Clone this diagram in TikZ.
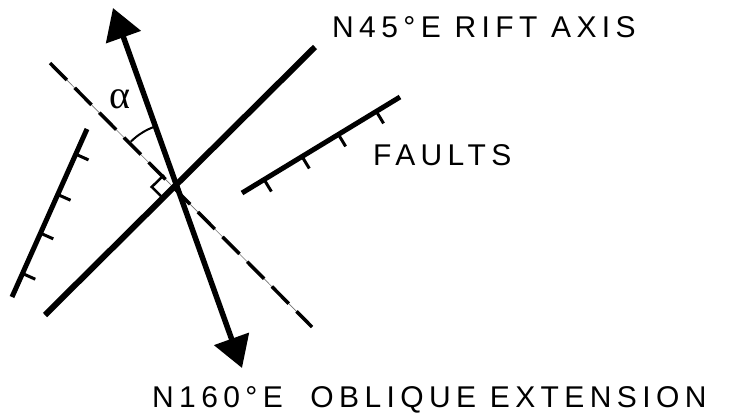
\documentclass[tikz,border=0pt]{standalone}
\usepackage{fontspec}
\setmainfont{Liberation Sans}
\newfontfamily\lblfont[LetterSpace=18]{Liberation Sans}
\newfontfamily\greekfont{Liberation Serif}
\usetikzlibrary{arrows.meta,calc}

\begin{document}
\begin{tikzpicture}[x=1pt,y=-1pt,
    lbl/.style={inner sep=0pt, anchor=base west,
      font=\lblfont\fontsize{30}{36}\selectfont},
    riftline/.style={line width=6pt},
    extarrow/.style={line width=5.5pt,
      {Triangle[length=31pt,width=36pt]}-{Triangle[length=31pt,width=36pt]}},
    faultline/.style={line width=5pt},
    faulttick/.style={line width=3pt}
  ]
  \useasboundingbox (0,0) rectangle (730,416);

  % main directions
  \coordinate (C) at (176,187);
  \coordinate (riftA) at (45,315);
  \coordinate (riftB) at (315,47);
  \coordinate (perpA) at (50,63);
  \coordinate (perpB) at (312,327);
  \coordinate (extTop) at (113,8);
  \coordinate (extBot) at (242,368);

  % faults
  \coordinate (lfA) at (12,297);
  \coordinate (lfB) at (87,129);
  \coordinate (rfA) at (242,193);
  \coordinate (rfB) at (400,97);

  % perpendicular to the rift
  \draw[line width=0.6pt, black!55] (perpA) -- (perpB);
  \draw[line width=3.5pt, dash pattern=on 24pt off 11pt] (perpA) -- (perpB);

  \draw[riftline] (riftA) -- (riftB);
  \draw[extarrow] (extBot) -- (extTop);

  % right angle and alpha
  \coordinate (ra1) at ($(C)!17pt!(perpA)$);
  \coordinate (ra2) at ($(C)!17pt!(riftA)$);
  \draw[line width=2.5pt] (ra1) -- ($(ra1)+(ra2)-(C)$) -- (ra2);
  \draw[line width=2pt] ($(C)+(225:64)$) arc[start angle=225, end angle=251, radius=64];
  \node[inner sep=0pt, font=\greekfont\fontsize{40}{44}\selectfont] (alpha) at (120,99) {α};

  \draw[faultline] (lfA) -- (lfB);
  \draw[faultline] (rfA) -- (rfB);
  \foreach \t in {0.14,0.38,0.61,0.85} {
    \draw[faulttick] ($(lfA)!\t!(lfB)$) -- ($($(lfA)!\t!(lfB)$)!14pt!-90:(lfB)$);
    \draw[faulttick] ($(rfA)!\t!(rfB)$) -- ($($(rfA)!\t!(rfB)$)!14pt!-90:(rfB)$);
  }

  \node[lbl] (riftlbl) at (332,37) {N45°E RIFT AXIS};
  \node[lbl] (faultlbl) at (373,165) {FAULTS};
  \node[lbl] (extlbl) at (152,407) {N160°E\ \ OBLIQUE EXTENSION};
\end{tikzpicture}
\end{document}
